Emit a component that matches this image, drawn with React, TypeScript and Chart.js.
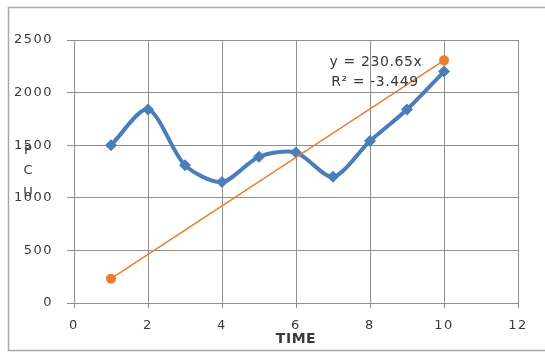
import React, { useEffect, useRef } from "react";
import { Chart, registerables } from "chart.js";

Chart.register(...registerables);

const timeValues = [1, 2, 3, 4, 5, 6, 7, 8, 9, 10];
const pcuValues = [1500, 1840, 1310, 1150, 1390, 1430, 1200, 1540, 1840, 2200];
const trendX = [1, 10];
const trendSlope = 230.65;
const trendY = trendX.map((x) => x * trendSlope);
const trendLabel = "y = 230.65x";
const r2Label = "R² = -3.449";
const xTitle = "TIME";
const yTitleLetters = ["P", "C", "U"];

const FONT = "'DejaVu Sans', sans-serif";
const TEXT = "#3a3a3a";
const GRID = "#8f8f8f";

const spacingPlugin = {
  id: "spacing",
  beforeLayout(chart: any) {
    chart.ctx.letterSpacing = "1.5px";
  },
  beforeDraw(chart: any) {
    chart.ctx.letterSpacing = "1.5px";
  },
};

const decorPlugin = {
  id: "decor",
  afterDraw(chart: any) {
    const ctx = chart.ctx;
    const xs = chart.scales.x;
    ctx.save();
    ctx.letterSpacing = "0px";
    // frame
    ctx.strokeStyle = "#a8a8a8";
    ctx.lineWidth = 1.5;
    ctx.beginPath();
    ctx.moveTo(545, 7.5);
    ctx.lineTo(8.5, 7.5);
    ctx.lineTo(8.5, 350.5);
    ctx.lineTo(545, 350.5);
    ctx.stroke();
    // trendline labels
    ctx.fillStyle = TEXT;
    ctx.textAlign = "center";
    ctx.textBaseline = "middle";
    ctx.font = `14px ${FONT}`;
    ctx.letterSpacing = "0.6px";
    ctx.fillText(trendLabel, 376, 62);
    ctx.fillText(r2Label, 375, 82);
    // x title
    ctx.font = `bold 14px ${FONT}`;
    ctx.letterSpacing = "0.5px";
    ctx.fillText(xTitle, (xs.left + xs.right) / 2, 339);
    // y title letters stacked
    ctx.font = `13px ${FONT}`;
    ctx.letterSpacing = "0px";
    const ys0 = [151, 171, 193];
    yTitleLetters.forEach((l, i) => ctx.fillText(l, 28, ys0[i]));
    ctx.restore();
  },
};

export default function App() {
  const ref = useRef<HTMLCanvasElement>(null);
  useEffect(() => {
    if (!ref.current) return;
    const chart = new Chart(ref.current, {
      type: "scatter",
      data: {
        datasets: [
          {
            label: "Trend",
            data: trendX.map((x, i) => ({ x, y: trendY[i] })),
            showLine: true,
            borderColor: "#ed7d31",
            backgroundColor: "#ed7d31",
            borderWidth: 1.5,
            pointRadius: 5,
            pointBorderWidth: 0,
            pointStyle: "circle",
            order: 0,
          },
          {
            label: "PCU",
            data: timeValues.map((x, i) => ({ x, y: pcuValues[i] })),
            showLine: true,
            borderColor: "#4a7ebb",
            backgroundColor: "#4a7ebb",
            borderWidth: 4,
            tension: 0.28,
            pointRadius: 6,
            pointBorderWidth: 0,
            pointStyle: "rectRot",
            order: 1,
          },
        ],
      },
      options: {
        responsive: false,
        animation: false,
        layout: { padding: { left: 0, right: 27, top: 40, bottom: 0 } },
        plugins: {
          legend: { display: false },
          tooltip: { enabled: false },
        },
        scales: {
          x: {
            type: "linear",
            min: 0,
            max: 12,
            ticks: {
              stepSize: 2,
              color: TEXT,
              font: { family: FONT, size: 13 },
              padding: 10,
              callback: (v: any) => String(v),
            },
            grid: { color: GRID, lineWidth: 1, tickLength: 5 },
            border: { color: GRID, width: 1 },
            afterFit(s: any) {
              s.height = 49;
            },
          },
          y: {
            type: "linear",
            min: 0,
            max: 2500,
            ticks: {
              stepSize: 500,
              color: TEXT,
              font: { family: FONT, size: 13 },
              padding: 14,
              callback: (v: any) => String(v),
            },
            grid: { color: GRID, lineWidth: 1, tickLength: 7 },
            border: { color: GRID, width: 1 },
            afterFit(s: any) {
              s.width = 74;
            },
          },
        },
      },
      plugins: [spacingPlugin, decorPlugin],
    });
    return () => chart.destroy();
  }, []);
  return (
    <div style={{ position: "absolute", left: 0, top: 0, width: 545, height: 352 }}>
      <canvas ref={ref} width={545} height={352} />
    </div>
  );
}
